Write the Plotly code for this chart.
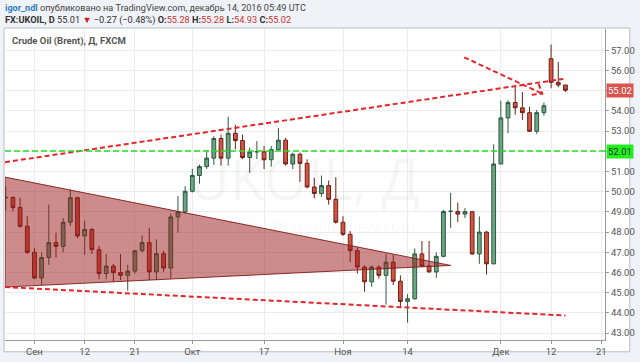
import plotly.graph_objects as go

# ---------------- data ----------------
dates = [
    "2016-08-26", "2016-08-29", "2016-08-30", "2016-08-31", "2016-09-01", "2016-09-02",
    "2016-09-05", "2016-09-06", "2016-09-07", "2016-09-08", "2016-09-09",
    "2016-09-12", "2016-09-13", "2016-09-14", "2016-09-15", "2016-09-16",
    "2016-09-19", "2016-09-20", "2016-09-21", "2016-09-22", "2016-09-23",
    "2016-09-26", "2016-09-27", "2016-09-28", "2016-09-29", "2016-09-30",
    "2016-10-03", "2016-10-04", "2016-10-05", "2016-10-06", "2016-10-07",
    "2016-10-10", "2016-10-11", "2016-10-12", "2016-10-13", "2016-10-14",
    "2016-10-17", "2016-10-18", "2016-10-19", "2016-10-20", "2016-10-21",
    "2016-10-24", "2016-10-25", "2016-10-26", "2016-10-27", "2016-10-28",
    "2016-10-31", "2016-11-01", "2016-11-02", "2016-11-03", "2016-11-04",
    "2016-11-07", "2016-11-08", "2016-11-09", "2016-11-10", "2016-11-11",
    "2016-11-14", "2016-11-15", "2016-11-16", "2016-11-17", "2016-11-18",
    "2016-11-21", "2016-11-22", "2016-11-23", "2016-11-24", "2016-11-25",
    "2016-11-28", "2016-11-29", "2016-11-30", "2016-12-01", "2016-12-02",
    "2016-12-05", "2016-12-06", "2016-12-07", "2016-12-08", "2016-12-09",
    "2016-12-12", "2016-12-13", "2016-12-14",
]
opens = [
    49.70, 49.72, 49.22, 48.29, 47.00, 45.73,
    46.74, 47.48, 47.29, 48.49, 49.70,
    47.81, 48.13, 47.13, 45.95, 46.32,
    46.00, 45.86, 46.07, 47.08, 47.48,
    46.03, 46.93, 46.22, 48.75, 49.00,
    50.02, 50.80, 51.24, 51.66, 52.63,
    51.66, 52.89, 52.53, 51.69, 51.97,
    51.97, 51.58, 52.08, 52.55, 51.37,
    51.85, 51.40, 50.23, 49.91, 50.30,
    49.62, 48.49, 47.89, 47.08, 46.27,
    45.54, 46.27, 45.86, 46.51, 45.57,
    44.57, 44.70, 46.92, 46.32, 46.03,
    46.80, 49.02, 49.02, 48.89, 49.01,
    46.92, 48.00, 46.43, 51.37, 53.65,
    54.41, 54.15, 53.91, 52.99, 53.91,
    56.58, 55.41, 55.28,
]
highs = [
    50.25, 49.75, 49.70, 48.78, 47.22, 47.00,
    49.36, 47.97, 48.70, 50.11, 49.75,
    48.57, 48.21, 47.32, 46.92, 46.43,
    46.92, 46.38, 47.08, 47.84, 48.21,
    47.64, 47.08, 48.91, 49.78, 50.27,
    51.13, 51.34, 52.05, 52.74, 52.82,
    53.71, 53.31, 52.82, 52.18, 52.50,
    52.26, 52.26, 53.15, 52.66, 51.93,
    51.93, 51.60, 50.69, 50.80, 50.55,
    50.72, 48.78, 48.05, 47.24, 46.35,
    46.35, 46.35, 46.92, 46.87, 45.86,
    44.93, 47.19, 47.56, 47.56, 47.00,
    49.10, 49.94, 49.46, 49.18, 49.02,
    48.78, 48.05, 52.34, 54.50, 54.52,
    55.28, 54.93, 54.20, 54.04, 54.41,
    57.28, 56.42, 55.28,
]
lows = [
    49.05, 49.02, 48.21, 46.92, 45.67, 45.38,
    46.38, 46.74, 47.00, 48.29, 47.70,
    46.87, 46.92, 45.67, 45.67, 45.54,
    45.62, 45.10, 45.95, 47.00, 45.62,
    45.62, 46.03, 45.70, 47.97, 48.91,
    49.96, 50.40, 51.13, 51.33, 51.29,
    51.29, 52.10, 51.61, 50.93, 51.61,
    51.12, 51.24, 52.01, 51.29, 51.12,
    50.48, 50.17, 49.67, 49.75, 49.36,
    48.42, 47.81, 46.51, 45.95, 45.05,
    45.30, 45.70, 44.41, 45.38, 44.25,
    43.52, 44.65, 46.27, 45.99, 45.73,
    46.75, 48.20, 48.50, 48.70, 46.87,
    46.43, 45.90, 46.40, 51.37, 52.90,
    53.80, 53.55, 52.95, 52.86, 53.76,
    55.12, 55.17, 54.93,
]
closes = [
    49.72, 49.21, 48.29, 47.00, 45.73, 46.74,
    47.48, 47.29, 48.49, 49.70, 47.81,
    48.13, 47.13, 45.95, 46.32, 45.99,
    45.86, 46.07, 47.08, 47.48, 46.03,
    46.93, 46.22, 48.75, 49.00, 50.02,
    50.80, 51.24, 51.66, 52.63, 51.66,
    52.89, 52.53, 51.69, 51.97, 51.98,
    51.58, 52.08, 52.55, 51.37, 51.85,
    51.40, 50.23, 49.91, 50.30, 49.62,
    48.49, 47.89, 47.08, 46.27, 45.54,
    46.27, 45.86, 46.51, 45.57, 44.57,
    44.70, 46.92, 46.32, 46.03, 46.80,
    49.02, 49.03, 48.89, 49.01, 46.92,
    48.00, 46.43, 51.37, 53.65, 54.41,
    54.15, 53.91, 52.99, 53.91, 54.25,
    55.41, 55.28, 55.02,
]

x_tick_dates = ["2016-09-01", "2016-09-12", "2016-09-21", "2016-10-03", "2016-10-17",
                "2016-11-01", "2016-11-14", "2016-12-01", "2016-12-12", "2016-12-21"]
x_tick_labels = ["Сен", "12", "21", "Окт", "17", "Ноя", "14", "Дек", "12", "21"]
y_tick_values = [43, 44, 45, 46, 47, 48, 49, 50, 51, 52, 53, 54, 55, 56, 57]
# 52.00 and 55.00 are covered by the price boxes in the original
y_tick_labels = ["43.00", "44.00", "45.00", "46.00", "47.00", "48.00", "49.00", "50.00",
                 "51.00", "", "53.00", "54.00", "", "56.00", "57.00"]

x_range = ["2016-08-25 21:30", "2016-12-21 12:20"]
y_range = [42.66, 58.05]

# user drawings
upper_line_x = ["2016-08-25 21:30", "2016-12-13 17:00"]
upper_line_y = [51.46, 55.58]
lower_line_x = ["2016-08-25 21:30", "2016-12-14 00:00"]
lower_line_y = [45.28, 43.87]
triangle_x = ["2016-08-25 21:30", "2016-11-22 00:00", "2016-08-25 21:30", "2016-08-25 21:30"]
triangle_y = [50.72, 46.35, 45.28, 50.72]
arrow_x = ["2016-11-23 21:20", "2016-12-08 18:30"]
arrow_y = [56.65, 54.85]
arrow_head_x = ["2016-12-08 06:15", "2016-12-08 18:30", "2016-12-07 07:00"]
arrow_head_y = [55.33, 54.85, 54.80]
support_level = 52.01
last_price = 55.02

# ---------------- figure ----------------
RED = "#e3262b"
FONT = "Roboto"
fig = go.Figure()

fig.add_trace(go.Candlestick(
    x=dates, open=opens, high=highs, low=lows, close=closes,
    increasing=dict(fillcolor="#6ba583", line=dict(color="#2c5a3f", width=1)),
    decreasing=dict(fillcolor="#d75442", line=dict(color="#6b2117", width=1)),
    whiskerwidth=0, showlegend=False, hoverinfo="skip",
))

fig.add_trace(go.Scatter(
    x=triangle_x, y=triangle_y, mode="lines", fill="toself",
    fillcolor="rgba(155,25,25,0.5)", line=dict(color="rgba(130,25,25,0.9)", width=1),
    showlegend=False, hoverinfo="skip",
))

for xs, ys in [(upper_line_x, upper_line_y), (lower_line_x, lower_line_y),
               (arrow_x, arrow_y), (arrow_head_x, arrow_head_y)]:
    fig.add_trace(go.Scatter(
        x=xs, y=ys, mode="lines",
        line=dict(color=RED, width=2, dash="5px,3px"),
        showlegend=False, hoverinfo="skip",
    ))

# plot area in pixels: x 5..610, y 29..346
L, R, T, B = 5, 30, 29, 16
W, H = 640, 362
pw, ph = W - L - R, H - T - B

def px(xp):
    return (xp - L) / pw

def py(yp):
    return (H - B - yp) / ph

shapes = [
    dict(type="rect", xref="paper", yref="paper", x0=px(4), x1=px(635), y0=py(358), y1=py(28),
         fillcolor="white", line=dict(color="#b8bcc0", width=1), layer="below"),
    dict(type="line", xref="paper", yref="y", x0=0, x1=1, y0=support_level, y1=support_level,
         line=dict(color="#22e022", width=1.5, dash="6px,3px")),
]

annotations = [
    dict(xref="paper", yref="paper", x=px(3), y=py(8), xanchor="left", yanchor="middle",
         showarrow=False, font=dict(family=FONT, size=9.1, color="#444"),
         text="<span style='color:#2f7fc1'><b>igor_ndl</b></span> опубликовано на TradingView.com, декабрь 14, 2016 05:49 UTC"),
    dict(xref="paper", yref="paper", x=px(3), y=py(20), xanchor="left", yanchor="middle",
         showarrow=False, font=dict(family=FONT, size=9.2, color="#333"),
         text="<b>FX:UKOIL, D</b> 55.01 <span style='color:#d02020'>▼</span> −0.27 (−0.48%) "
              "<b>O:</b><span style='color:#cc3333'>55.28</span> "
              "<b>H:</b><span style='color:#cc3333'>55.28</span> "
              "<b>L:</b><span style='color:#cc3333'>54.93</span> "
              "<b>C:</b><span style='color:#cc3333'>55.02</span>"),
    dict(xref="paper", yref="paper", x=px(10), y=py(41), xanchor="left", yanchor="middle",
         showarrow=False, font=dict(family=FONT, size=9.5, color="#555"),
         text="<b>Crude Oil (Brent), Д, FXCM</b>"),
    dict(xref="paper", yref="paper", x=px(307), y=py(181), xanchor="center", yanchor="middle",
         showarrow=False, font=dict(family="Open Sans", size=56, color="rgba(0,0,0,0.035)"),
         text="UKOIL, Д"),
    dict(xref="paper", yref="paper", x=px(307), y=py(230), xanchor="center", yanchor="middle",
         showarrow=False, font=dict(family="Open Sans", size=16, color="rgba(0,0,0,0.04)"),
         text="created with tradingview.com"),
    dict(xref="paper", yref="y", x=1, y=last_price, xanchor="left", yanchor="middle",
         showarrow=False, font=dict(family=FONT, size=9.5, color="white"),
         text=f"{last_price:.2f}", bgcolor="#d9534f", borderpad=1, xshift=1),
    dict(xref="paper", yref="y", x=1, y=support_level, xanchor="left", yanchor="middle",
         showarrow=False, font=dict(family=FONT, size=9.5, color="#333"),
         text=f"{support_level:.2f}", bgcolor="#22ee22", borderpad=1, xshift=1),
]

fig.update_layout(
    width=W, height=H,
    margin=dict(l=L, r=R, t=T, b=B, pad=0),
    paper_bgcolor="#eff2f6", plot_bgcolor="rgba(0,0,0,0)",
    shapes=shapes, annotations=annotations,
    showlegend=False, hovermode=False, boxgap=0.25,
    xaxis=dict(
        type="date", range=x_range, rangeslider=dict(visible=False),
        rangebreaks=[dict(bounds=["sat", "mon"])],
        tickvals=x_tick_dates, ticktext=x_tick_labels,
        showgrid=True, gridcolor="#ececec", gridwidth=1,
        showline=True, linecolor="#999", linewidth=1,
        ticks="outside", ticklen=3, tickcolor="#999",
        tickfont=dict(family=FONT, size=9.5, color="#555"),
        zeroline=False, fixedrange=True,
    ),
    yaxis=dict(
        side="right", range=y_range, tickvals=y_tick_values, ticktext=y_tick_labels,
        showgrid=True, gridcolor="#ececec", gridwidth=1,
        showline=True, linecolor="#999", linewidth=1,
        ticks="outside", ticklen=3, tickcolor="#999",
        tickfont=dict(family=FONT, size=9.5, color="#555"),
        zeroline=False, fixedrange=True,
    ),
)

fig.write_html("out.html")
